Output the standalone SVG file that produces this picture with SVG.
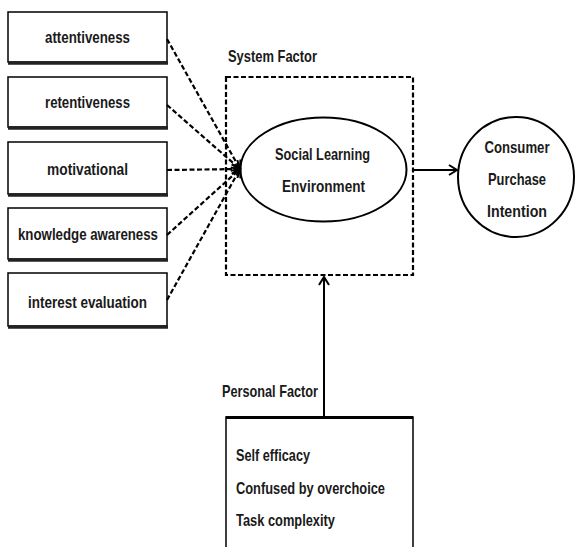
<svg xmlns="http://www.w3.org/2000/svg" width="575" height="547" viewBox="0 0 575 547">
<defs>
<style>
.t{font-family:"Liberation Sans Narrow","Liberation Sans",Arial,sans-serif;font-weight:bold;fill:#1a1a1a;font-size:17px}
.box{fill:#fff;stroke:#000;stroke-width:1.5}
.sh{stroke:#222;stroke-width:3.5}
.dash{fill:none;stroke:#000;stroke-width:2.2;stroke-dasharray:5,2.5}
.solid{fill:none;stroke:#000;stroke-width:2}
</style>
<marker id="ah" markerWidth="12" markerHeight="12" refX="10" refY="6" orient="auto" markerUnits="userSpaceOnUse">
<path d="M2,1 L10,6 L2,11" fill="none" stroke="#000" stroke-width="2"/>
</marker>
</defs>
<g id="n-attentiveness">
<rect class="box" x="8" y="12" width="159" height="50"/>
<line class="sh" x1="8" y1="63" x2="168" y2="63"/>
<text class="t" x="87.5" y="43" text-anchor="middle" textLength="85" lengthAdjust="spacingAndGlyphs">attentiveness</text>
</g>
<g id="n-retentiveness">
<rect class="box" x="8" y="77" width="159" height="50"/>
<line class="sh" x1="8" y1="128" x2="168" y2="128"/>
<text class="t" x="87.5" y="108" text-anchor="middle" textLength="85" lengthAdjust="spacingAndGlyphs">retentiveness</text>
</g>
<g id="n-motivational">
<rect class="box" x="8" y="142" width="159" height="52"/>
<line class="sh" x1="8" y1="195" x2="168" y2="195"/>
<text class="t" x="87.5" y="175" text-anchor="middle" textLength="81" lengthAdjust="spacingAndGlyphs">motivational</text>
</g>
<g id="n-knowledge">
<rect class="box" x="8" y="208" width="159" height="51"/>
<line class="sh" x1="8" y1="260" x2="168" y2="260"/>
<text class="t" x="88" y="240" text-anchor="middle" textLength="140" lengthAdjust="spacingAndGlyphs">knowledge awareness</text>
</g>
<g id="n-interest">
<rect class="box" x="8" y="273" width="159" height="53"/>
<line class="sh" x1="8" y1="327" x2="168" y2="327"/>
<text class="t" x="87.5" y="308" text-anchor="middle" textLength="119" lengthAdjust="spacingAndGlyphs">interest evaluation</text>
</g>
<g id="n-system">
<rect class="dash" x="226" y="77" width="187" height="198"/>
<text class="t" x="228" y="62" textLength="89" lengthAdjust="spacingAndGlyphs">System Factor</text>
</g>
<g id="n-social">
<ellipse cx="323.5" cy="169.5" rx="83" ry="52" fill="#fff" stroke="#000" stroke-width="2"/>
<text class="t" x="322.5" y="160" text-anchor="middle" textLength="95" lengthAdjust="spacingAndGlyphs">Social Learning</text>
<text class="t" x="323.5" y="192" text-anchor="middle" textLength="83" lengthAdjust="spacingAndGlyphs">Environment</text>
</g>
<g id="n-consumer">
<ellipse cx="516" cy="177" rx="58" ry="60" fill="#fff" stroke="#000" stroke-width="2"/>
<text class="t" x="517" y="153" text-anchor="middle" textLength="65" lengthAdjust="spacingAndGlyphs">Consumer</text>
<text class="t" x="517" y="185" text-anchor="middle" textLength="58" lengthAdjust="spacingAndGlyphs">Purchase</text>
<text class="t" x="517" y="217" text-anchor="middle" textLength="60" lengthAdjust="spacingAndGlyphs">Intention</text>
</g>
<g id="n-personal">
<text class="t" x="222" y="397" textLength="96" lengthAdjust="spacingAndGlyphs">Personal Factor</text>
<path d="M226,549 L226,417 L413,417 L413,549" fill="#fff" stroke="#000" stroke-width="1.5"/>
<line x1="226" y1="417.5" x2="413" y2="417.5" stroke="#000" stroke-width="3"/>
<text class="t" x="236" y="461" textLength="74" lengthAdjust="spacingAndGlyphs">Self efficacy</text>
<text class="t" x="236" y="494" textLength="149" lengthAdjust="spacingAndGlyphs">Confused by overchoice</text>
<text class="t" x="236" y="526" textLength="99" lengthAdjust="spacingAndGlyphs">Task complexity</text>
</g>
<g id="connectors">
<line class="dash" x1="167" y1="39" x2="240" y2="169" marker-end="url(#ah)"/>
<line class="dash" x1="167" y1="105" x2="240" y2="169" marker-end="url(#ah)"/>
<line class="dash" x1="167" y1="170" x2="240" y2="169" marker-end="url(#ah)"/>
<line class="dash" x1="167" y1="235" x2="240" y2="169" marker-end="url(#ah)"/>
<line class="dash" x1="167" y1="300" x2="240" y2="169" marker-end="url(#ah)"/>
<line class="solid" x1="413" y1="170" x2="457" y2="170" marker-end="url(#ah)"/>
<line class="solid" x1="324" y1="416" x2="324" y2="277" marker-end="url(#ah)"/>
</g>
</svg>
